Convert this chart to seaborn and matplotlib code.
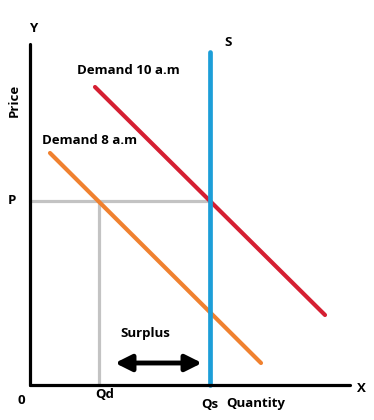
import matplotlib
matplotlib.use("Agg")
import matplotlib.pyplot as plt
import pandas as pd
import seaborn as sns

# curve endpoints in chart units (origin at the axes corner)
supply_x = [180, 180]
supply_y = [0, 333]
demand10_x = [65, 295]
demand10_y = [298, 70]
demand8_x = [20, 231]
demand8_y = [232, 22]
price_level = 184
qd = 69
qs = 180
surplus_arrow = (85, 172, 22)

sns.set_style("white")
plt.rcParams["font.family"] = ["Open Sans", "DejaVu Sans"]

fig = plt.figure(figsize=(3.74, 4.2), dpi=100)
ax = fig.add_axes([0, 0, 1, 1])

segments = pd.concat([
    pd.DataFrame({"x": demand10_x, "y": demand10_y, "curve": "Demand 10 a.m"}),
    pd.DataFrame({"x": demand8_x, "y": demand8_y, "curve": "Demand 8 a.m"}),
])
palette = {"Demand 10 a.m": "#d51f32", "Demand 8 a.m": "#f0812f"}

# guide lines for P / Qd
ax.plot([0, qs], [price_level, price_level], color="#c3c3c3", lw=2.3, zorder=1)
ax.plot([qd, qd], [0, price_level], color="#c3c3c3", lw=2.3, zorder=1)

sns.lineplot(data=segments, x="x", y="y", hue="curve", palette=palette,
             lw=3.0, legend=False, ax=ax, sort=False, estimator=None,
             solid_capstyle="round", zorder=2)
sns.lineplot(x=supply_x, y=supply_y, color="#1c9ed8", lw=3.4, ax=ax,
             sort=False, estimator=None, solid_capstyle="round", zorder=3)

# axes
ax.plot([0, 0], [0, 341], color="black", lw=2.3, zorder=4)
ax.plot([0, 320], [0, 0], color="black", lw=2.3, zorder=4)

# surplus arrow
x0, x1, ya = surplus_arrow
ax.annotate("", xy=(x0, ya), xytext=(x1, ya),
            arrowprops=dict(arrowstyle="<|-|>,head_length=0.7,head_width=0.35",
                            color="black", lw=3.5, mutation_scale=14,
                            shrinkA=0, shrinkB=0))

kw = dict(fontweight="bold", color="black", fontsize=9.5)
ax.text(3, 356, "Y", ha="center", va="center", **kw)
ax.text(331, -3, "X", ha="center", va="center", **kw)
ax.text(198, 343, "S", ha="center", va="center", **kw)
ax.text(98, 315, "Demand 10 a.m", ha="center", va="center", **kw)
ax.text(60, 245, "Demand 8 a.m", ha="center", va="center", **kw)
ax.text(-16, 285, "Price", ha="center", va="center", rotation=90, **kw)
ax.text(-18, 185, "P", ha="center", va="center", **kw)
ax.text(-9, -15, "0", ha="center", va="center", **kw)
ax.text(75, -10, "Qd", ha="center", va="center", **kw)
ax.text(180, -19, "Qs", ha="center", va="center", **kw)
ax.text(226, -19, "Quantity", ha="center", va="center", **kw)
ax.text(115, 52, "Surplus", ha="center", va="center", **kw)

ax.set_xlim(-30, 344)
ax.set_ylim(-35, 385)
ax.set_axis_off()

fig.savefig("out.png", dpi=100, facecolor="white")
